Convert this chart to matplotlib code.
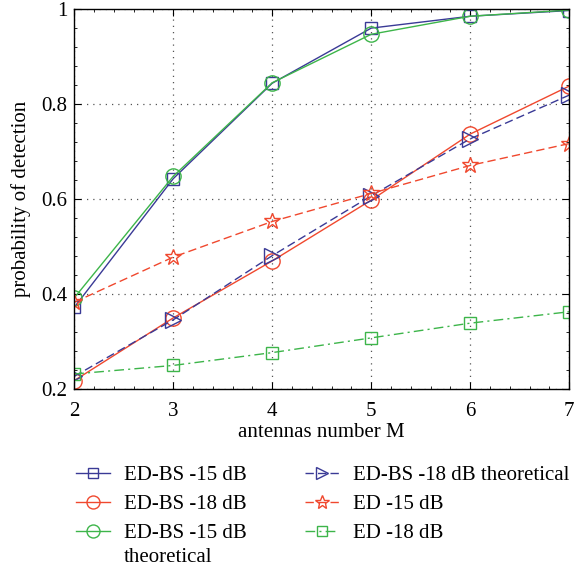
import matplotlib
matplotlib.use("Agg")
import matplotlib.pyplot as plt
from matplotlib.ticker import MultipleLocator, FuncFormatter

# antennas number M
antennas = [2, 3, 4, 5, 6, 7]

# probability of detection
edbs_15 = [0.372, 0.643, 0.844, 0.960, 0.985, 0.997]
edbs_18 = [0.218, 0.350, 0.470, 0.598, 0.737, 0.838]
edbs_15_theo = [0.392, 0.648, 0.845, 0.947, 0.985, 0.998]
edbs_18_theo = [0.227, 0.346, 0.481, 0.607, 0.727, 0.819]
ed_15 = [0.383, 0.478, 0.553, 0.612, 0.671, 0.717]
ed_18 = [0.232, 0.250, 0.277, 0.308, 0.339, 0.363]

labels = ["ED-BS -15 dB", "ED-BS -18 dB", "ED-BS -15 dB",
          "ED-BS -18 dB theoretical", "ED -15 dB", "ED -18 dB"]

blue = "#3a3a96"
red = "#f0482e"
green = "#3db54a"

plt.rcParams["font.family"] = ["Liberation Serif", "DejaVu Serif"]
plt.rcParams["font.size"] = 15

fig = plt.figure(figsize=(5.75, 5.69), dpi=100)
ax = fig.add_axes([0.129, 0.316, 0.861, 0.668])

mfc = "none"
lw = 1.0
ax.plot(antennas, edbs_15, color=blue, ls="-", lw=lw, marker="s", ms=9, mfc=mfc, mew=1.0, label=labels[0])
ax.plot(antennas, edbs_18, color=red, ls="-", lw=lw, marker="o", ms=11, mfc=mfc, mew=1.0, label=labels[1])
ax.plot(antennas, edbs_15_theo, color=green, ls="-", lw=lw, marker="o", ms=11, mfc=mfc, mew=1.0, label=labels[2])
ax.plot(antennas, edbs_18_theo, color=blue, ls=(0, (6, 3)), lw=lw, marker=">", ms=11, mfc=mfc, mew=1.0, label=labels[3])
ax.plot(antennas, ed_15, color=red, ls=(0, (6, 3)), lw=lw, marker="*", ms=12, mfc=mfc, mew=1.0, label=labels[4])
ax.plot(antennas, ed_18, color=green, ls=(0, (7, 3, 1.5, 3)), lw=lw, marker="s", ms=9, mfc=mfc, mew=1.0, label=labels[5])

ax.set_xlim(2, 7)
ax.set_ylim(0.2, 1.0)
ax.xaxis.set_major_locator(MultipleLocator(1))
ax.yaxis.set_major_locator(MultipleLocator(0.2))
ax.xaxis.set_minor_locator(MultipleLocator(0.2))
ax.yaxis.set_minor_locator(MultipleLocator(0.04))
ax.yaxis.set_major_formatter(FuncFormatter(lambda v, p: "1" if abs(v - 1) < 1e-9 else f"{v:.1f}"))
ax.tick_params(which="both", direction="in", top=True, right=True, labelsize=15)
ax.tick_params(which="major", length=5)
ax.tick_params(axis="x", which="major", pad=9)
ax.tick_params(axis="y", which="major", pad=5)
ax.tick_params(which="minor", length=2.5)
ax.grid(True, which="major", ls=(0, (1, 4)), color="#555555", lw=0.9)
for s in ax.spines.values():
    s.set_linewidth(1.0)

ax.set_xlabel("antennas number M", labelpad=2)
ax.set_ylabel("probability of detection", labelpad=7)

leg = fig.legend(loc="upper left", bbox_to_anchor=(0.117, 0.196), ncol=2, frameon=False,
                 handlelength=1.65, handletextpad=0.65, columnspacing=2.8, labelspacing=0.45,
                 fontsize=15, markerscale=0.85, borderaxespad=0.0)

# second line of the third label sits under it, handle stays on the first line
fig.canvas.draw()
bb = leg.get_texts()[2].get_window_extent().transformed(fig.transFigure.inverted())
fig.text(bb.x0, bb.y0 - 0.042, "theoretical", fontsize=15, ha="left", va="bottom")

fig.savefig("out.png", dpi=100)
